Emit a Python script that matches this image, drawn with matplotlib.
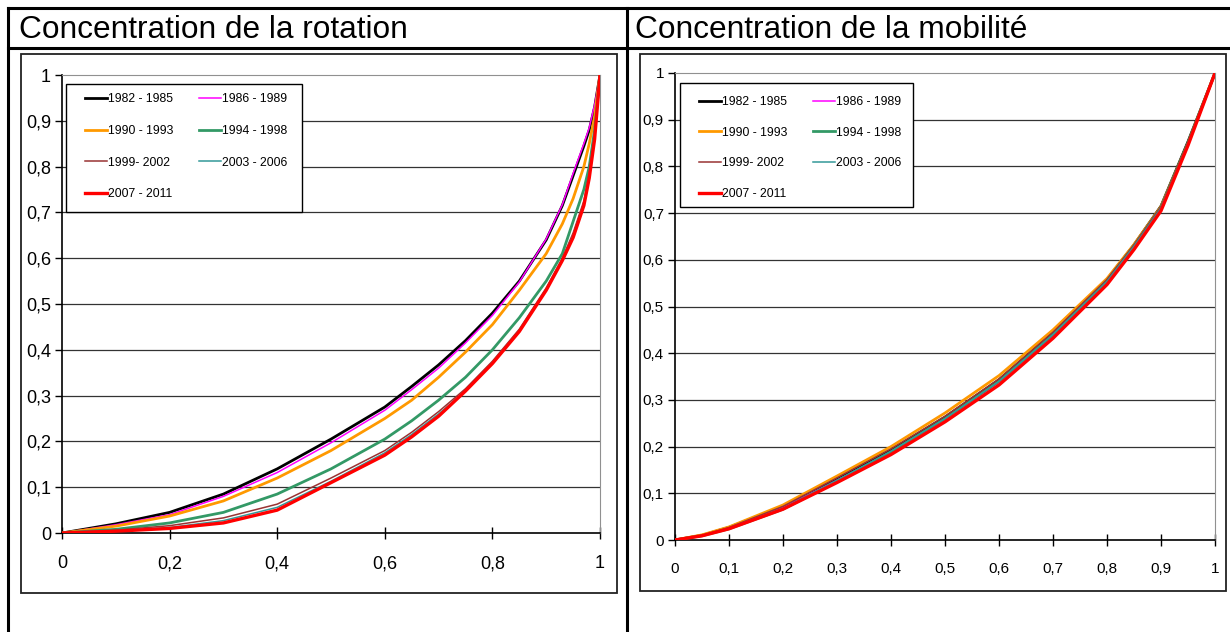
import matplotlib
matplotlib.use("Agg")
import matplotlib.pyplot as plt
from matplotlib.lines import Line2D
from matplotlib.patches import Rectangle

# ---------------- data ----------------
periods = ["1982 - 1985", "1986 - 1989", "1990 - 1993", "1994 - 1998",
           "1999- 2002", "2003 - 2006", "2007 - 2011"]

rot_x = [0, 0.1, 0.2, 0.3, 0.4, 0.5, 0.6, 0.65, 0.7, 0.75, 0.8, 0.85, 0.9,
         0.93, 0.95, 0.97, 0.98, 0.99, 1.0]
rot_1982 = [0, 0.02, 0.045, 0.085, 0.14, 0.205, 0.275, 0.32, 0.367, 0.42, 0.48,
            0.55, 0.64, 0.715, 0.78, 0.845, 0.88, 0.93, 1.0]
rot_1986 = [0, 0.018, 0.04, 0.08, 0.132, 0.197, 0.268, 0.313, 0.36, 0.415, 0.475,
            0.548, 0.642, 0.717, 0.785, 0.85, 0.885, 0.935, 1.0]
rot_1990 = [0, 0.015, 0.037, 0.07, 0.12, 0.18, 0.25, 0.29, 0.34, 0.395, 0.455,
            0.53, 0.61, 0.675, 0.73, 0.80, 0.85, 0.91, 1.0]
rot_1994 = [0, 0.008, 0.022, 0.045, 0.085, 0.14, 0.205, 0.245, 0.29, 0.34, 0.40,
            0.47, 0.55, 0.61, 0.68, 0.75, 0.80, 0.88, 1.0]
rot_1999 = [0, 0.006, 0.016, 0.033, 0.063, 0.12, 0.18, 0.22, 0.265, 0.315, 0.375,
            0.445, 0.535, 0.60, 0.655, 0.725, 0.785, 0.87, 1.0]
rot_2003 = [0, 0.005, 0.012, 0.027, 0.056, 0.113, 0.175, 0.215, 0.26, 0.31, 0.372,
            0.442, 0.532, 0.597, 0.65, 0.72, 0.78, 0.865, 1.0]
rot_2007 = [0, 0.004, 0.01, 0.022, 0.05, 0.11, 0.17, 0.21, 0.255, 0.31, 0.37,
            0.44, 0.53, 0.595, 0.645, 0.715, 0.775, 0.86, 1.0]

mob_x = [0, 0.05, 0.1, 0.2, 0.3, 0.4, 0.5, 0.6, 0.7, 0.8, 0.85, 0.9, 0.95, 1.0]
mob_1982 = [0, 0.01, 0.027, 0.072, 0.132, 0.193, 0.263, 0.343, 0.443, 0.558, 0.632, 0.715, 0.853, 1.0]
mob_1986 = [0, 0.01, 0.026, 0.07, 0.128, 0.188, 0.258, 0.338, 0.437, 0.552, 0.627, 0.71, 0.848, 1.0]
mob_1990 = [0, 0.011, 0.028, 0.075, 0.137, 0.2, 0.272, 0.352, 0.45, 0.56, 0.633, 0.714, 0.85, 1.0]
mob_1994 = [0, 0.009, 0.024, 0.066, 0.126, 0.189, 0.26, 0.34, 0.44, 0.555, 0.63, 0.712, 0.85, 1.0]
mob_1999 = [0, 0.01, 0.027, 0.072, 0.133, 0.195, 0.265, 0.345, 0.445, 0.558, 0.632, 0.714, 0.852, 1.0]
mob_2003 = [0, 0.009, 0.025, 0.068, 0.128, 0.19, 0.26, 0.34, 0.44, 0.554, 0.629, 0.711, 0.849, 1.0]
mob_2007 = [0, 0.009, 0.024, 0.066, 0.123, 0.183, 0.253, 0.332, 0.432, 0.547, 0.622, 0.705, 0.845, 1.0]

rot_series = [rot_1982, rot_1986, rot_1990, rot_1994, rot_1999, rot_2003, rot_2007]
mob_series = [mob_1982, mob_1986, mob_1990, mob_1994, mob_1999, mob_2003, mob_2007]

colors = ["#000000", "#FF00FF", "#FF9900", "#339966", "#993333", "#339999", "#FF0000"]
widths = [2.0, 1.1, 2.0, 2.0, 1.1, 1.1, 2.4]

left_title = "Concentration de la rotation"
right_title = "Concentration de la mobilité"

yticks = [0, 0.1, 0.2, 0.3, 0.4, 0.5, 0.6, 0.7, 0.8, 0.9, 1]
rot_xticks = [0, 0.2, 0.4, 0.6, 0.8, 1]
mob_xticks = [0, 0.1, 0.2, 0.3, 0.4, 0.5, 0.6, 0.7, 0.8, 0.9, 1]

# ---------------- figure ----------------
FONT = ["Liberation Sans Narrow", "Liberation Sans", "DejaVu Sans"]
plt.rcParams["font.family"] = FONT

W, H = 1230, 632
fig = plt.figure(figsize=(W / 100, H / 100), dpi=100)


def fx(px):
    return px / W


def fy(py):
    return 1 - py / H


def fig_line(x0, y0, x1, y1, lw=2.0, color="black"):
    fig.add_artist(Line2D([fx(x0), fx(x1)], [fy(y0), fy(y1)],
                          transform=fig.transFigure, color=color, lw=lw))


# table lines
fig_line(8, 8, 1230, 8, lw=2.2)
fig_line(8, 48, 1230, 48, lw=2.2)
fig_line(8, 8, 8, 632, lw=2.2)
fig_line(627, 8, 627, 632, lw=2.2)

fig.text(fx(19), fy(30), left_title, fontsize=22.8, va="center", ha="left")
fig.text(fx(635), fy(30), right_title, fontsize=22.8, va="center", ha="left")

# chart frames
for (x0, y0, x1, y1) in [(21, 54, 617, 593), (640, 54, 1226, 591)]:
    fig.add_artist(Rectangle((fx(x0), fy(y1)), fx(x1 - x0), (y1 - y0) / H,
                             transform=fig.transFigure, fill=False,
                             edgecolor="#222222", lw=1.3))


def fmt(v):
    s = ("%g" % v).replace(".", ",")
    return s


def make_ax(rect_px, xs, series, xticks, tick_fs, leg_fs, leg_box, leg_first,
            labelspacing, colspacing):
    x0, y0, x1, y1 = rect_px
    ax = fig.add_axes([fx(x0), fy(y1), fx(x1 - x0), (y1 - y0) / H])
    ax.set_xlim(0, 1)
    ax.set_ylim(0, 1)
    for yv in yticks[1:-1]:
        ax.axhline(yv, color="#333333", lw=0.9, zorder=1)
    handles = []
    for s, c, w, lab in zip(series, colors, widths, periods):
        h, = ax.plot(xs, s, color=c, lw=w, label=lab, zorder=3,
                     solid_joinstyle="round")
        handles.append(h)
    ax.spines["left"].set_color("black")
    ax.spines["bottom"].set_color("black")
    ax.spines["left"].set_linewidth(1.2)
    ax.spines["bottom"].set_linewidth(1.2)
    ax.spines["top"].set_color("#909090")
    ax.spines["right"].set_color("#909090")
    ax.set_yticks(yticks)
    ax.set_yticklabels([fmt(v) for v in yticks], fontsize=tick_fs)
    ax.set_xticks(xticks)
    ax.set_xticklabels([fmt(v) for v in xticks], fontsize=tick_fs)
    ax.tick_params(axis="y", direction="out", length=5, width=1, pad=3)
    ax.tick_params(axis="x", direction="inout", length=8, width=1, pad=12)

    # legend frame
    bx0, by0, bx1, by1 = leg_box
    ax.add_patch(Rectangle((fx(bx0), fy(by1)), fx(bx1 - bx0), (by1 - by0) / H,
                           transform=fig.transFigure, facecolor="white",
                           edgecolor="black", lw=1.0, zorder=4, clip_on=False))
    hx, hy = leg_first
    ax_w, ax_h = x1 - x0, y1 - y0
    order = [0, 2, 4, 6, 1, 3, 5]
    leg = ax.legend([handles[i] for i in order], [periods[i] for i in order],
                    ncol=2, loc="upper left",
                    bbox_to_anchor=((hx - x0) / ax_w, (y1 - hy) / ax_h),
                    fontsize=leg_fs, frameon=False, borderaxespad=0,
                    handlelength=1.8, handletextpad=0.1,
                    columnspacing=colspacing, labelspacing=labelspacing,
                    borderpad=0)
    leg.set_zorder(5)
    return ax


make_ax((62, 75, 600, 533), rot_x, rot_series, rot_xticks, 13, 8.8,
        (66, 84, 302, 212), (85, 93), 1.62, 2.1)
make_ax((675, 73, 1215, 540), mob_x, mob_series, mob_xticks, 11, 8.8,
        (680, 83, 913, 207), (699, 96), 1.53, 2.1)

fig.savefig("out.png", dpi=100)
